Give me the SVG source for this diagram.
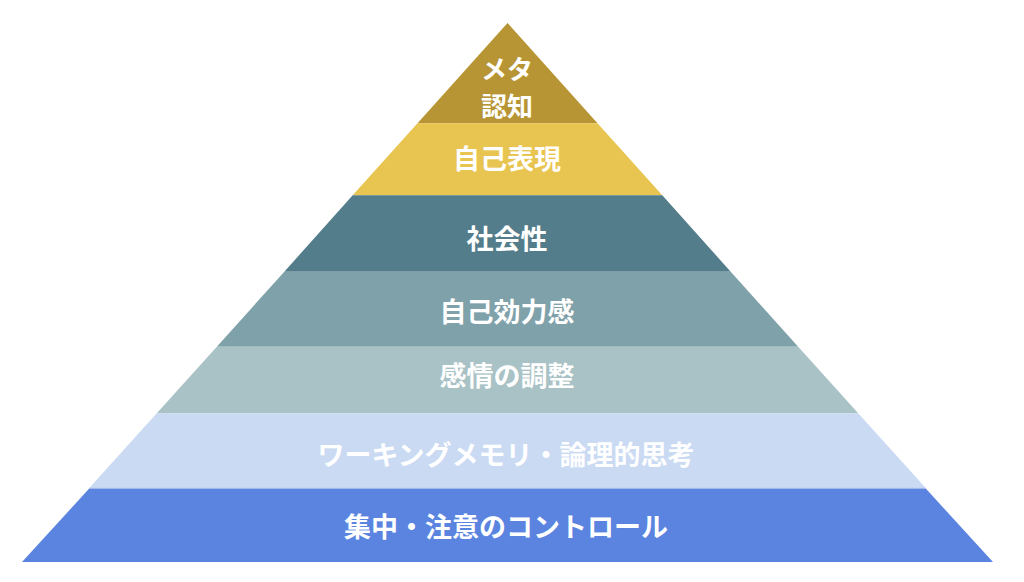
<svg xmlns="http://www.w3.org/2000/svg" width="1024" height="582" viewBox="0 0 1024 582">
<style>
.lbl{font-family:"Noto Sans CJK JP","Noto Sans",sans-serif;font-size:27px;font-weight:700;fill:#ffffff;text-anchor:middle;dominant-baseline:central}
.sm{font-size:26px}
</style>
<rect width="1024" height="582" fill="#ffffff"/>
<g id="layer-meta">
<polygon points="507.5,23 417.5,123.3 597.5,123.3" fill="#B89534"/>
<text class="lbl sm" x="507" y="67">メタ</text>
<text class="lbl sm" x="507" y="104">認知</text>
</g>
<g id="layer-jiko-hyogen">
<polygon points="417.5,123.3 597.5,123.3 662.3,195.3 352.7,195.3" fill="#E8C451"/>
<text class="lbl" x="507" y="157">自己表現</text>
</g>
<g id="layer-shakaisei">
<polygon points="352.7,195.3 662.3,195.3 730.7,271.7 284.3,271.7" fill="#537D8A"/>
<text class="lbl" x="507" y="237">社会性</text>
</g>
<g id="layer-jiko-koryokukan">
<polygon points="284.3,271.7 730.7,271.7 798.2,346.7 216.8,346.7" fill="#7FA1AA"/>
<text class="lbl" x="507" y="310">自己効力感</text>
</g>
<g id="layer-kanjo">
<polygon points="216.8,346.7 798.2,346.7 858.2,413.3 156.8,413.3" fill="#A9C2C6"/>
<text class="lbl" x="507" y="374">感情の調整</text>
</g>
<g id="layer-working-memory">
<polygon points="156.8,413.3 858.2,413.3 926,488.3 89,488.3" fill="#CADAF3"/>
<line x1="89" y1="488.3" x2="926" y2="488.3" stroke="#A9C0EC" stroke-width="1"/>
<text class="lbl" x="506" y="453">ワーキングメモリ・論理的思考</text>
</g>
<g id="layer-shuchu">
<polygon points="89,488.8 926,488.8 993,562 22,562" fill="#5A84DF"/>
<text class="lbl" x="506" y="525">集中・注意のコントロール</text>
</g>
<g id="connectors"></g>
</svg>
